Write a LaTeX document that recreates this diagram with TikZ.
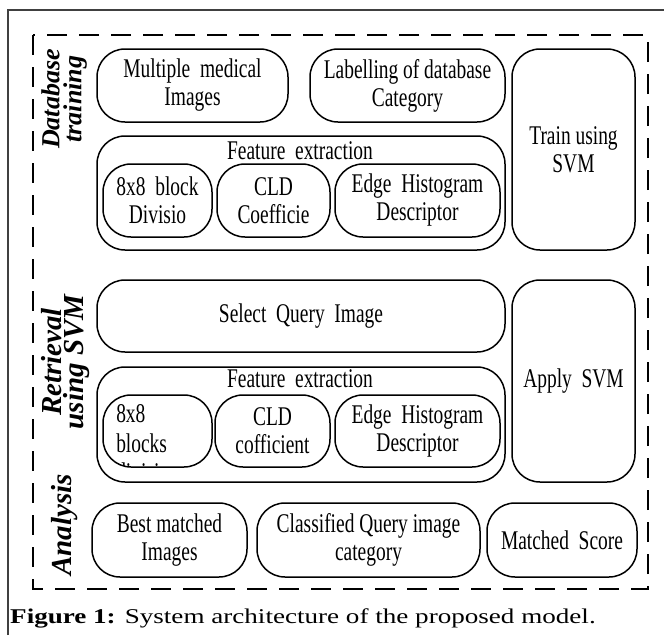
\documentclass[tikz,border=0pt]{standalone}
\usepackage{fontspec}
\setmainfont{Liberation Serif}
\newfontfamily\boxfont[FakeStretch=0.72]{Liberation Serif}
\newfontfamily\capfont[FakeStretch=1.29]{Liberation Serif}

\tikzset{
  stage/.style={draw, line width=1.5pt, rounded corners=28pt, inner sep=0pt,
    font=\boxfont\fontsize{27}{28}\selectfont, align=center},
  boxtext/.style={inner sep=0pt, draw=none, minimum width=0pt, minimum height=0pt,
    font=\boxfont\fontsize{27}{28}\selectfont, align=center},
  sidetext/.style={inner sep=0pt, rotate=90, align=center,
    font=\bfseries\itshape\fontsize{#1}{22}\selectfont},
  sidetext/.default=29,
}

\begin{document}
\begin{tikzpicture}[x=1pt,y=-1pt]
  \useasboundingbox (0,0) rectangle (664,635);

  % frame and dashed border
  \draw[color=darkgray, line width=1.2pt] (8,635) -- (8,10) -- (664,10);
  \draw[line width=2.4pt, dash pattern=on 20pt off 12pt] (33,35) rectangle (648,589);

  % stage names
  \node[sidetext=26] (dbtrain) at (64,99) {Database\\training};
  \node[sidetext] (retsvm) at (66,362) {Retrieval\\using SVM};
  \node[sidetext] (analysis) at (65,525) {Analysis};

  % database training
  \node[stage, minimum width=191pt, minimum height=73pt] (medimg) at (192.5,85.5)
    {Multiple\ \ medical\\Images};
  \node[stage, minimum width=195pt, minimum height=73pt] (labeldb) at (407.5,85.5)
    {Labelling of database\\Category};
  \node[stage, minimum width=123pt, minimum height=201pt] (trainsvm) at (573.5,149.5)
    {Train using\\SVM};
  \node[stage, minimum width=408pt, minimum height=114pt] (feat1) at (301,193) {};
  \node[boxtext] (feat1lbl) at (300,151) {Feature\ \ extraction};
  \node[stage, minimum width=109pt, minimum height=73pt] (block1) at (157.5,200.5)
    {8x8\ \ block\\Divisio};
  \node[stage, minimum width=113pt, minimum height=73pt] (cld1) at (273.5,200.5)
    {CLD\\Coefficie};
  \node[stage, minimum width=165pt, minimum height=73pt] (ehd1) at (417.5,200.5)
    {Edge\ \ Histogram\\Descriptor};

  % retrieval using SVM
  \node[stage, minimum width=408pt, minimum height=72pt] (query) at (301,316)
    {Select\ \ Query\ \ Image};
  \node[stage, minimum width=123pt, minimum height=202pt] (applysvm) at (573.5,381)
    {Apply\ \ SVM};
  \node[stage, minimum width=408pt, minimum height=115pt] (feat2) at (301,424.5) {};
  \node[boxtext] (feat2lbl) at (300,379) {Feature\ \ extraction};
  \node[stage, minimum width=109pt, minimum height=72pt,
    path picture={
      \node[boxtext, anchor=base west] at ([shift={(-42,-9)}]path picture bounding box.center) {8x8};
      \node[boxtext, anchor=base west] at ([shift={(-42,21)}]path picture bounding box.center) {blocks};
      \node[boxtext, anchor=base west] at ([shift={(-42,50)}]path picture bounding box.center) {division};
    }] (block2) at (157.5,431) {};
  \node[stage, minimum width=115pt, minimum height=72pt] (cld2) at (272.5,431)
    {CLD\\cofficient};
  \node[stage, minimum width=165pt, minimum height=72pt] (ehd2) at (417.5,431)
    {Edge\ \ Histogram\\Descriptor};

  % analysis
  \node[stage, minimum width=155pt, minimum height=74pt] (bestimg) at (169.5,540)
    {Best matched\\Images};
  \node[stage, minimum width=223pt, minimum height=74pt] (classq) at (368.5,540)
    {Classified Query image\\category};
  \node[stage, minimum width=150pt, minimum height=74pt] (score) at (562,540)
    {Matched\ \ Score};

  % caption
  \node[inner sep=0pt, anchor=base west, font=\capfont\fontsize{21}{24}\selectfont]
    (caption) at (10,623) {\textbf{Figure 1:} System architecture of the proposed model.};
\end{tikzpicture}
\end{document}
